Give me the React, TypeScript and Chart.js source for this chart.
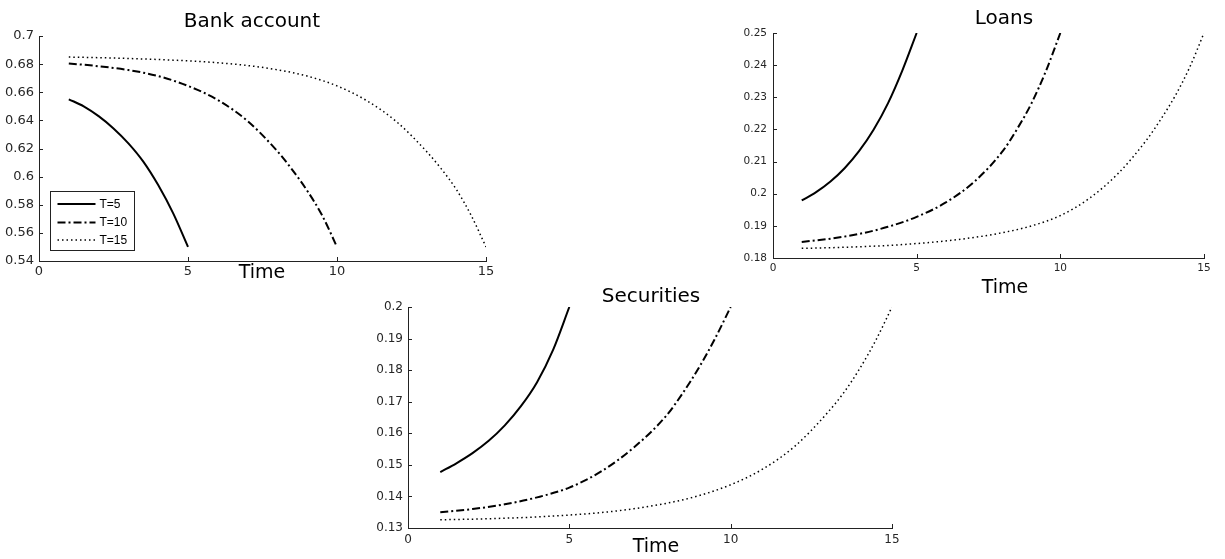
import React, { useEffect, useRef } from "react";
import { Chart, registerables } from "chart.js";

Chart.register(...registerables);

// ---------- data ----------
const timeT5 = [1, 1.5, 2, 2.5, 3, 3.5, 4, 4.5, 5];
const timeT10 = [1, 2, 3, 4, 5, 6, 7, 8, 8.5, 9, 9.5, 10];
const timeT15 = [1, 2, 3, 4, 5, 6, 7, 8, 9, 10, 11, 12, 13, 13.5, 14, 14.5, 15];
const seriesLabels = ["T=5", "T=10", "T=15"];
const xTickRange = [0, 15];
const xTickStep = 5;

const bankT5 = [0.655, 0.65, 0.643, 0.6343, 0.6237, 0.6107, 0.594, 0.574, 0.55];
const bankT10 = [0.6805, 0.6785, 0.6758, 0.6715, 0.6645, 0.6545, 0.6395, 0.618, 0.6048, 0.59, 0.5725, 0.55];
const bankT15 = [0.685, 0.6846, 0.684, 0.6833, 0.6823, 0.681, 0.679, 0.676, 0.6715, 0.6645, 0.654, 0.639, 0.618, 0.6055, 0.591, 0.5725, 0.55];
const bankYRange = [0.54, 0.7];
const bankYStep = 0.02;

const loansT5 = [0.1979, 0.2005, 0.2038, 0.208, 0.2133, 0.2199, 0.2281, 0.2383, 0.25];
const loansT10 = [0.185, 0.186, 0.1875, 0.1897, 0.1928, 0.1972, 0.2037, 0.2133, 0.2202, 0.2282, 0.2382, 0.25];
const loansT15 = [0.183, 0.1832, 0.1835, 0.1839, 0.1845, 0.1853, 0.1864, 0.1879, 0.19, 0.1932, 0.1985, 0.2062, 0.2167, 0.2232, 0.2305, 0.2393, 0.25];
const loansYRange = [0.18, 0.25];
const loansYStep = 0.01;

const secT5 = [0.1477, 0.1505, 0.1537, 0.1576, 0.1625, 0.1686, 0.1762, 0.1865, 0.2];
const secT10 = [0.135, 0.136, 0.1375, 0.1397, 0.1428, 0.148, 0.1555, 0.1655, 0.1725, 0.1805, 0.1897, 0.2];
const secT15 = [0.1326, 0.1328, 0.1331, 0.1335, 0.1341, 0.1349, 0.1361, 0.1378, 0.1402, 0.1437, 0.1487, 0.156, 0.1665, 0.1728, 0.1805, 0.1895, 0.2];
const secYRange = [0.13, 0.2];
const secYStep = 0.01;

// ---------- styling ----------
const FONT = "'DejaVu Sans', 'Liberation Sans', sans-serif";
const LEGEND_FONT = "'Liberation Sans', Arial, sans-serif";
const AXIS_COLOR = "#222";

const lineStyles = [
  { borderWidth: 2, borderDash: [] as number[] },
  { borderWidth: 2, borderDash: [8, 3, 2, 3] },
  { borderWidth: 1.5, borderDash: [1.5, 3] },
];

const seriesTimes = [timeT5, timeT10, timeT15];

function buildDatasets(values: number[][]) {
  return values.map((vals, i) => ({
    label: seriesLabels[i],
    data: vals.map((v, j) => ({ x: seriesTimes[i][j], y: v })),
    borderColor: "#000",
    backgroundColor: "#000",
    borderWidth: lineStyles[i].borderWidth,
    borderDash: lineStyles[i].borderDash,
    borderCapStyle: "butt",
    pointRadius: 0,
    pointHoverRadius: 0,
    cubicInterpolationMode: "monotone",
    fill: false,
  }));
}

type Panel = {
  key: string;
  title: string;
  xLabel: string;
  canvas: { left: number; top: number; width: number; height: number };
  area: { left: number; top: number; right: number; bottom: number };
  yRange: number[];
  yStep: number;
  values: number[][];
  tickFont: number;
  yPad: number;
  xPad: number;
  titleX: number;
  titleBase: number;
  labelX: number;
  labelBase: number;
  legend: boolean;
};

const panels: Panel[] = [
  {
    key: "bank",
    title: "Bank account",
    xLabel: "Time",
    canvas: { left: 0, top: 0, width: 500, height: 292 },
    area: { left: 39, top: 36, right: 486, bottom: 261 },
    yRange: bankYRange,
    yStep: bankYStep,
    values: [bankT5, bankT10, bankT15],
    tickFont: 13,
    yPad: 5,
    xPad: 3,
    titleX: 252,
    titleBase: 27,
    labelX: 262,
    labelBase: 278,
    legend: true,
  },
  {
    key: "loans",
    title: "Loans",
    xLabel: "Time",
    canvas: { left: 720, top: 0, width: 505, height: 300 },
    area: { left: 773, top: 33, right: 1204, bottom: 258 },
    yRange: loansYRange,
    yStep: loansYStep,
    values: [loansT5, loansT10, loansT15],
    tickFont: 10.5,
    yPad: 6,
    xPad: 4,
    titleX: 1004,
    titleBase: 24,
    labelX: 1005,
    labelBase: 293,
    legend: false,
  },
  {
    key: "sec",
    title: "Securities",
    xLabel: "Time",
    canvas: { left: 340, top: 280, width: 580, height: 279 },
    area: { left: 408, top: 307, right: 892, bottom: 528 },
    yRange: secYRange,
    yStep: secYStep,
    values: [secT5, secT10, secT15],
    tickFont: 12,
    yPad: 5,
    xPad: 5,
    titleX: 651,
    titleBase: 302,
    labelX: 656,
    labelBase: 552,
    legend: false,
  },
];

const decorPlugin = {
  id: "panelDecor",
  afterDraw(chart: any, _args: any, opts: any) {
    const ctx: CanvasRenderingContext2D = chart.ctx;
    const ca = chart.chartArea;
    const xs = chart.scales.x;
    const ys = chart.scales.y;
    ctx.save();
    // inward tick marks (MATLAB style)
    ctx.strokeStyle = AXIS_COLOR;
    ctx.lineWidth = 1;
    ctx.setLineDash([]);
    ctx.beginPath();
    xs.ticks.forEach((t: any) => {
      const px = Math.round(xs.getPixelForValue(t.value)) + 0.5;
      ctx.moveTo(px, ca.bottom);
      ctx.lineTo(px, ca.bottom - 4);
    });
    ys.ticks.forEach((t: any) => {
      const py = Math.round(ys.getPixelForValue(t.value)) + 0.5;
      ctx.moveTo(ca.left, py);
      ctx.lineTo(ca.left + 4, py);
    });
    ctx.stroke();

    // title and x label
    ctx.fillStyle = "#000";
    ctx.textAlign = "center";
    ctx.textBaseline = "alphabetic";
    ctx.font = `20px ${FONT}`;
    ctx.fillText(opts.title, opts.titleX, opts.titleBase);
    ctx.font = `19px ${FONT}`;
    ctx.fillText(opts.xLabel, opts.labelX, opts.labelBase);

    // legend box
    if (opts.legend) {
      const bx = ca.left + 11.5;
      const by = ca.bottom - 69.5;
      const bw = 84;
      const bh = 59;
      ctx.fillStyle = "#fff";
      ctx.fillRect(bx, by, bw, bh);
      ctx.strokeStyle = AXIS_COLOR;
      ctx.lineWidth = 1;
      ctx.strokeRect(bx, by, bw, bh);
      const rowY = [12.5, 31, 48.5];
      chart.data.datasets.forEach((ds: any, i: number) => {
        const y = by + rowY[i];
        ctx.strokeStyle = "#000";
        ctx.lineWidth = ds.borderWidth;
        ctx.setLineDash(ds.borderDash || []);
        ctx.beginPath();
        ctx.moveTo(bx + 7, y);
        ctx.lineTo(bx + 45, y);
        ctx.stroke();
        ctx.setLineDash([]);
        ctx.fillStyle = "#000";
        ctx.textAlign = "left";
        ctx.textBaseline = "middle";
        ctx.font = `12px ${LEGEND_FONT}`;
        ctx.fillText(ds.label, bx + 49, y + 0.5);
      });
    }
    ctx.restore();
  },
};

function fmt(v: number) {
  return String(Number(Number(v).toFixed(4)));
}

function PanelChart({ panel }: { panel: Panel }) {
  const ref = useRef<HTMLCanvasElement | null>(null);
  useEffect(() => {
    if (!ref.current) return;
    const c = panel.canvas;
    const a = panel.area;
    const yWidth = a.left - c.left;
    const xHeight = 22;
    const chart = new Chart(ref.current, {
      type: "line",
      data: { datasets: buildDatasets(panel.values) as any },
      plugins: [decorPlugin as any],
      options: {
        responsive: false,
        maintainAspectRatio: false,
        animation: false,
        devicePixelRatio: 1,
        events: [],
        layout: {
          padding: {
            left: 0,
            top: a.top - c.top,
            right: c.left + c.width - a.right,
            bottom: c.top + c.height - a.bottom - xHeight,
          },
        },
        scales: {
          x: {
            type: "linear",
            min: xTickRange[0],
            max: xTickRange[1],
            grid: { display: false, drawTicks: false },
            border: { display: true, color: AXIS_COLOR, width: 1 },
            ticks: {
              stepSize: xTickStep,
              padding: panel.xPad,
              color: "#262626",
              font: { family: FONT, size: panel.tickFont },
              maxRotation: 0,
              autoSkip: false,
              callback: (v: any) => fmt(v),
            },
            afterFit: (s: any) => {
              s.height = xHeight;
            },
          },
          y: {
            type: "linear",
            min: panel.yRange[0],
            max: panel.yRange[1],
            grid: { display: false, drawTicks: false },
            border: { display: true, color: AXIS_COLOR, width: 1 },
            ticks: {
              stepSize: panel.yStep,
              padding: panel.yPad,
              color: "#262626",
              font: { family: FONT, size: panel.tickFont },
              autoSkip: false,
              callback: (v: any) => fmt(v),
            },
            afterFit: (s: any) => {
              s.width = yWidth;
            },
          },
        },
        plugins: {
          legend: { display: false },
          tooltip: { enabled: false },
          title: { display: false },
          panelDecor: {
            title: panel.title,
            xLabel: panel.xLabel,
            titleX: panel.titleX - c.left,
            titleBase: panel.titleBase - c.top,
            labelX: panel.labelX - c.left,
            labelBase: panel.labelBase - c.top,
            legend: panel.legend,
          },
        } as any,
      },
    });
    return () => chart.destroy();
  }, [panel]);
  const c = panel.canvas;
  return (
    <canvas
      ref={ref}
      width={c.width}
      height={c.height}
      style={{ position: "absolute", left: c.left, top: c.top, width: c.width, height: c.height }}
    />
  );
}

export default function App() {
  return (
    <div
      style={{
        position: "absolute",
        left: 0,
        top: 0,
        width: 1225,
        height: 559,
        background: "#fff",
        overflow: "hidden",
      }}
    >
      {panels.map((p) => (
        <PanelChart key={p.key} panel={p} />
      ))}
    </div>
  );
}
